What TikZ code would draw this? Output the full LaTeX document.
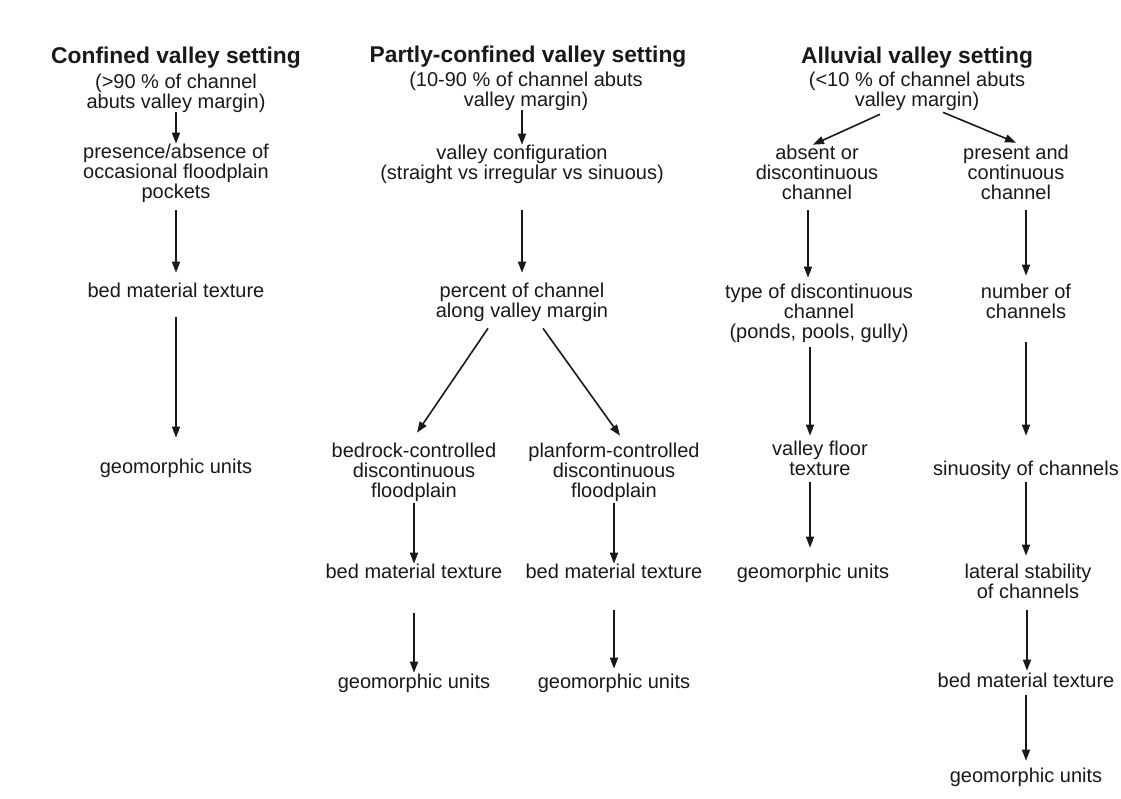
\documentclass[tikz,border=0pt]{standalone}
\usepackage{fontspec}
\setmainfont{Liberation Sans}
\usetikzlibrary{arrows.meta}

\begin{document}
\begin{tikzpicture}[x=1pt, y=1pt,
    lbl/.style={inner sep=0pt, outer sep=0pt, align=center, text=black!90,
                font=\fontsize{20}{20}\selectfont},
    head/.style={lbl, font=\fontsize{22.8}{24}\selectfont\bfseries},
    arr/.style={-{Triangle[length=11pt,width=8pt]}, line width=1.6pt, black!90}]
    \useasboundingbox (0,0) rectangle (1121,-798);

    % 1. Confined valley column
    \node[head] (t1) at (176,-58) {Confined valley setting};
    \node[lbl] (c1) at (176,-93) {(>90 \% of channel\\abuts valley margin)};
    \node[lbl] (p1) at (176,-173) {presence/absence of\\occasional floodplain\\pockets};
    \node[lbl] (b1) at (176,-290) {bed material texture};
    \node[lbl] (g1) at (176,-468) {geomorphic units};

    % 2. Partly-confined valley column
    \node[head] (t2) at (528,-57) {Partly-confined valley setting};
    \node[lbl] (c2) at (526,-91) {(10-90 \% of channel abuts\\valley margin)};
    \node[lbl] (v2) at (522,-164) {valley configuration\\(straight vs irregular vs sinuous)};
    \node[lbl] (pc2) at (522,-302) {percent of channel\\along valley margin};
    \node[lbl] (bc) at (414,-472) {bedrock-controlled\\discontinuous\\floodplain};
    \node[lbl] (pf) at (614,-472) {planform-controlled\\discontinuous\\floodplain};
    \node[lbl] (bl2) at (414,-571) {bed material texture};
    \node[lbl] (br2) at (614,-571) {bed material texture};
    \node[lbl] (gl2) at (414,-683) {geomorphic units};
    \node[lbl] (gr2) at (614,-683) {geomorphic units};

    % 3. Alluvial valley column
    \node[head] (t3) at (917,-58) {Alluvial valley setting};
    \node[lbl] (c3) at (917,-91) {(<10 \% of channel abuts\\valley margin)};
    \node[lbl] (ab) at (817,-172) {absent or\\discontinuous\\channel};
    \node[lbl] (pr) at (1016,-172) {present and\\continuous\\channel};
    \node[lbl] (ty) at (819,-313) {type of discontinuous\\channel\\(ponds, pools, gully)};
    \node[lbl] (nu) at (1026,-301) {number of\\channels};
    \node[lbl] (vf) at (820,-458) {valley floor\\texture};
    \node[lbl] (si) at (1026,-470) {sinuosity of channels};
    \node[lbl] (g3) at (813,-573) {geomorphic units};
    \node[lbl] (la) at (1028,-581) {lateral stability\\of channels};
    \node[lbl] (bm3) at (1026,-680) {bed material texture};
    \node[lbl] (g3r) at (1026,-777) {geomorphic units};

    % 4. Arrows
    \draw[arr] (c1) -- (p1);
    \draw[arr, shorten <=8pt, shorten >=10pt] (p1) -- (b1);
    \draw[arr, shorten <=20pt, shorten >=21pt] (b1) -- (g1);

    \draw[arr] (c2.south -| v2.north) -- (v2.north);
    \draw[arr, shorten <=27pt, shorten >=10pt] (v2) -- (pc2);
    \draw[arr] ([xshift=-34pt,yshift=-7pt]pc2.south) -- ([xshift=3pt,yshift=10pt]bc.north);
    \draw[arr] ([xshift=21pt,yshift=-7pt]pc2.south) -- ([xshift=6pt,yshift=7pt]pf.north);
    \draw[arr, shorten <=2pt] (bc) -- (bl2);
    \draw[arr, shorten <=2pt] (pf) -- (br2);
    \draw[arr, shorten <=35pt, shorten >=1pt] (bl2) -- (gl2);
    \draw[arr, shorten <=32pt, shorten >=5pt] (br2) -- (gr2);

    \draw[arr] ([xshift=-37pt,yshift=-4pt]c3.south) -- ([xshift=-4pt]ab.north);
    \draw[arr] ([xshift=26pt,yshift=-2pt]c3.south) -- ([yshift=2pt]pr.north);
    \draw[arr, shorten <=11pt, shorten >=6pt] ([xshift=-9pt]ab.south) -- ([xshift=-11pt]ty.north);
    \draw[arr, shorten <=11pt, shorten >=8pt] (pr.south -| nu.north) -- (nu.north);
    \draw[arr, shorten <=5pt, shorten >=5pt] ([xshift=-9pt]ty.south) -- ([xshift=-10pt]vf.north);
    \draw[arr, shorten <=24pt, shorten >=25pt] (nu) -- (si);
    \draw[arr, shorten <=7pt, shorten >=16pt] ([xshift=-10pt]vf.south) -- ([xshift=-3pt]g3.north);
    \draw[arr, shorten <=3pt, shorten >=8pt] (si.south) -- (si.south |- la.north);
    \draw[arr, shorten <=12pt, shorten >=2pt] ([xshift=-1pt]la.south) -- ([xshift=1pt]bm3.north);
    \draw[arr, shorten <=8pt, shorten >=7pt] (bm3) -- (g3r);
\end{tikzpicture}
\end{document}
